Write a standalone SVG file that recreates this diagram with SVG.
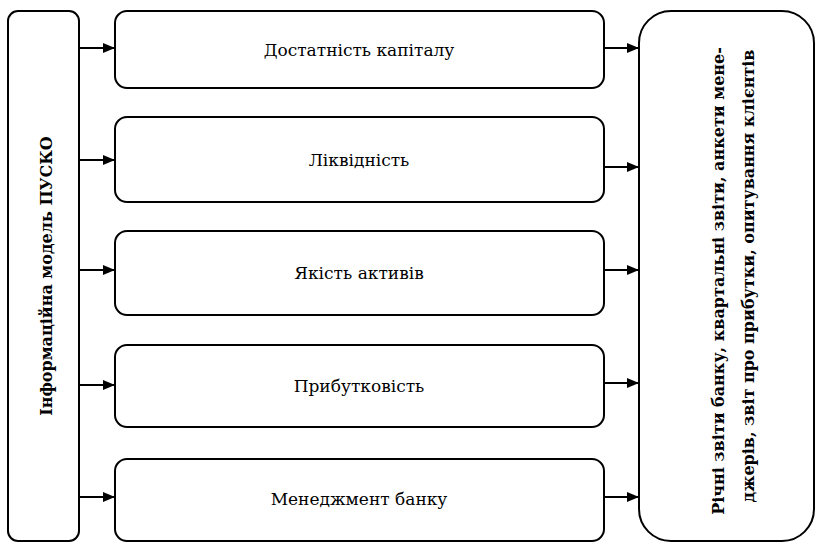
<svg xmlns="http://www.w3.org/2000/svg" width="817" height="544" viewBox="0 0 817 544">
<defs>
<style>
.box{fill:#fff;stroke:#000;stroke-width:2}
.lbl{font-family:'DejaVu Serif',serif;font-size:17px;fill:#000;text-anchor:middle}
.b{font-weight:bold;font-size:16px}
.conn{stroke:#000;stroke-width:2;fill:none}
</style>
<marker id="ah" markerWidth="12" markerHeight="10" refX="12" refY="5" orient="auto" markerUnits="userSpaceOnUse">
<path d="M0,0 L12,5 L0,10 Z" fill="#000"/>
</marker>
</defs>
<rect width="817" height="544" fill="#fff"/>
<g id="model">
<rect class="box" x="8" y="11" width="71" height="530" rx="10"/>
<text class="lbl b" transform="translate(52,276) rotate(-90)">Інформаційна модель ПУСКО</text>
</g>
<g id="capital">
<rect class="box" x="115" y="11" width="489" height="77" rx="12"/>
<text class="lbl" x="359" y="56">Достатність капіталу</text>
</g>
<g id="liquidity">
<rect class="box" x="115" y="117" width="489" height="85" rx="12"/>
<text class="lbl" x="359" y="166">Ліквідність</text>
</g>
<g id="assets">
<rect class="box" x="115" y="231" width="489" height="84" rx="12"/>
<text class="lbl" x="359" y="279">Якість активів</text>
</g>
<g id="profit">
<rect class="box" x="115" y="345" width="489" height="82" rx="12"/>
<text class="lbl" x="359" y="392">Прибутковість</text>
</g>
<g id="management">
<rect class="box" x="115" y="459" width="489" height="82" rx="12"/>
<text class="lbl" x="359" y="505">Менеджмент банку</text>
</g>
<g id="sources">
<rect class="box" x="639" y="11" width="175" height="530" rx="32"/>
<text class="lbl b" transform="translate(724,281) rotate(-90)">Річні звіти банку, квартальні звіти, анкети мене-</text>
<text class="lbl b" transform="translate(754,276) rotate(-90)">джерів, звіт про прибутки, опитування клієнтів</text>
</g>
<g id="connectors">
<line class="conn" x1="79" y1="48" x2="115" y2="48" marker-end="url(#ah)"/>
<line class="conn" x1="79" y1="160" x2="115" y2="160" marker-end="url(#ah)"/>
<line class="conn" x1="79" y1="270" x2="115" y2="270" marker-end="url(#ah)"/>
<line class="conn" x1="79" y1="385" x2="115" y2="385" marker-end="url(#ah)"/>
<line class="conn" x1="79" y1="497" x2="115" y2="497" marker-end="url(#ah)"/>
<line class="conn" x1="604" y1="48" x2="639" y2="48" marker-end="url(#ah)"/>
<line class="conn" x1="604" y1="167" x2="639" y2="167" marker-end="url(#ah)"/>
<line class="conn" x1="604" y1="270" x2="639" y2="270" marker-end="url(#ah)"/>
<line class="conn" x1="604" y1="383" x2="639" y2="383" marker-end="url(#ah)"/>
<line class="conn" x1="604" y1="497" x2="639" y2="497" marker-end="url(#ah)"/>
</g>
</svg>
